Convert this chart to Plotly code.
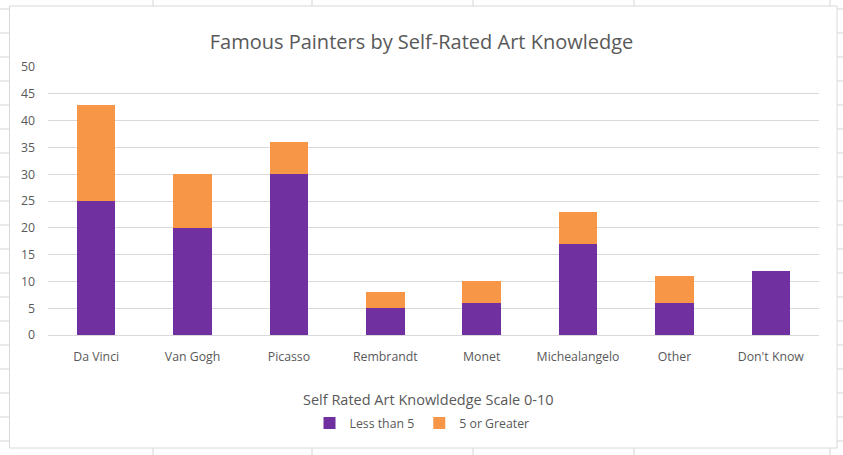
import plotly.graph_objects as go

categories = ["Da Vinci", "Van Gogh", "Picasso", "Rembrandt", "Monet",
              "Michealangelo", "Other", "Don't Know"]
less_than_5 = [25, 20, 30, 5, 6, 17, 6, 12]
five_or_greater = [18, 10, 6, 3, 4, 6, 5, 0]
y_ticks = [0, 5, 10, 15, 20, 25, 30, 35, 40, 45, 50]

W, H = 843, 455
L, R, T, B = 48, 819, 67, 335  # plot area in px

def px_x(px):
    return (px - L) / (R - L)

def px_y(py):
    return (B - py) / (B - T)

FONT = "Open Sans"
TXT = "#595959"
GRID = "#D9D9D9"
SHEET = "#D4D4D4"

fig = go.Figure()
fig.add_trace(go.Bar(name="Less than 5", x=categories, y=less_than_5,
                     marker=dict(color="#7030A0", line=dict(width=0))))
fig.add_trace(go.Bar(name="5 or Greater", x=categories, y=five_or_greater,
                     marker=dict(color="#F79646", line=dict(width=0))))

shapes = []
# spreadsheet grid behind the chart
for k in range(20):
    yy = 9 + 24 * k
    shapes.append(dict(type="line", xref="paper", yref="paper", layer="below",
                       x0=px_x(0), x1=px_x(W), y0=px_y(yy), y1=px_y(yy),
                       line=dict(color=SHEET, width=1)))
for xx in [153, 312, 473, 634, 830]:
    shapes.append(dict(type="line", xref="paper", yref="paper", layer="below",
                       x0=px_x(xx), x1=px_x(xx), y0=px_y(0), y1=px_y(H),
                       line=dict(color=SHEET, width=1)))
# chart area
shapes.append(dict(type="rect", xref="paper", yref="paper", layer="below",
                   x0=px_x(9.5), x1=px_x(837), y0=px_y(6), y1=px_y(448),
                   fillcolor="white", line=dict(color=GRID, width=1)))

fig.update_layout(
    width=W, height=H,
    margin=dict(l=L, r=W - R, t=T, b=H - B),
    barmode="stack", bargap=0.6,
    paper_bgcolor="white", plot_bgcolor="rgba(0,0,0,0)",
    font=dict(family=FONT, size=12, color=TXT),
    title=dict(text="Famous Painters by Self-Rated Art Knowledge",
               x=0.5, xanchor="center", xref="container",
               y=1 - 42 / H, yanchor="middle", yref="container",
               font=dict(size=20, color=TXT, family=FONT)),
    xaxis=dict(showgrid=False, showline=True, linecolor=GRID, linewidth=1,
               ticks="", tickfont=dict(size=12.3, color=TXT),
               ticklabelstandoff=10, fixedrange=True),
    yaxis=dict(range=[0, 50], tickvals=y_ticks, showgrid=True, gridcolor=GRID,
               gridwidth=1, zeroline=False, showline=False, ticks="",
               tickfont=dict(size=12.3, color=TXT), ticklabelstandoff=12,
               fixedrange=True),
    legend=dict(orientation="h", x=px_x(422), xanchor="center",
                y=px_y(423), yanchor="middle",
                font=dict(size=12.3, color=TXT), bgcolor="rgba(0,0,0,0)",
                traceorder="normal", itemwidth=30),
    annotations=[dict(text="Self Rated Art Knowldedge Scale 0-10",
                      xref="paper", yref="paper", x=px_x(428), y=px_y(399),
                      xanchor="center", yanchor="middle", showarrow=False,
                      font=dict(size=14.5, color=TXT, family=FONT))],
    shapes=shapes,
)

fig.write_html("out.html", config={"displayModeBar": False},
               post_script="document.body.style.margin='0';document.body.style.overflow='hidden';")
